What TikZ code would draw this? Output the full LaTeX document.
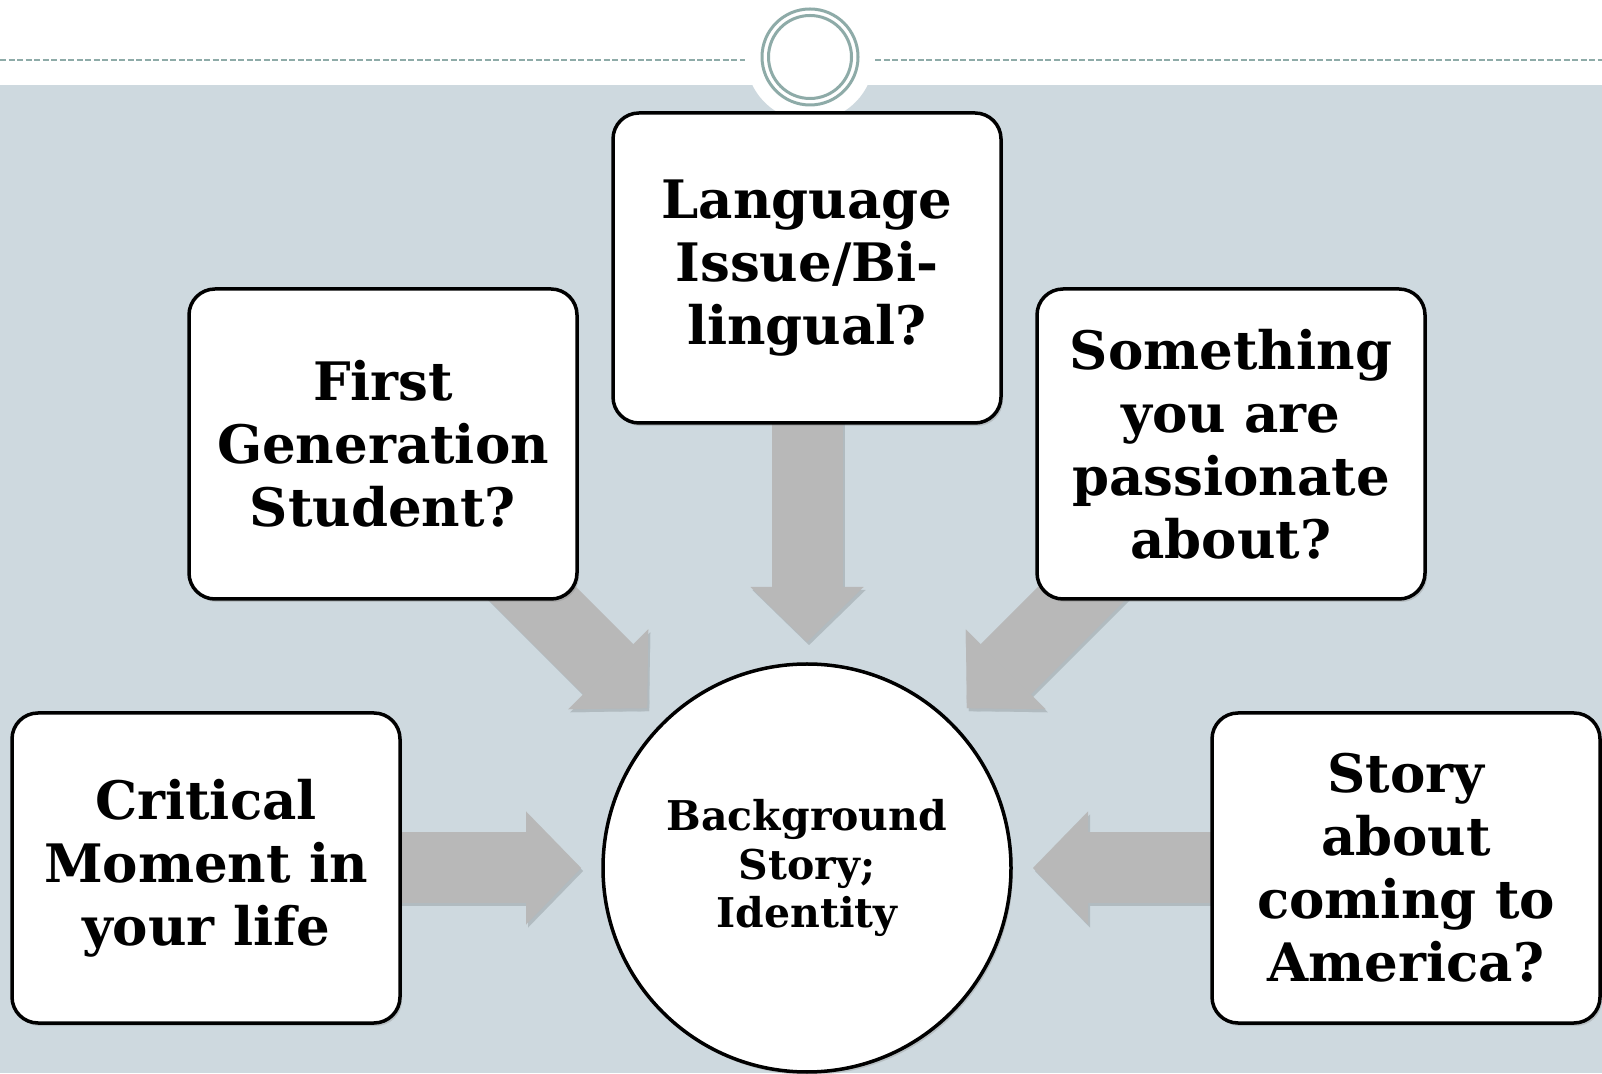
\documentclass[tikz,border=0pt]{standalone}
\usepackage{fontspec}
\setmainfont{DejaVu Serif}
\usepackage{tikz}
\usetikzlibrary{arrows.meta, shadows, backgrounds}
\definecolor{slate}{HTML}{CED9DF}
\definecolor{ringcol}{HTML}{8EABA8}
\definecolor{arrowgray}{HTML}{B8B8B8}

\begin{document}
\begin{tikzpicture}[x=1pt, y=1pt, line join=round,
    idea/.style={draw, line width=3.5pt, fill=white, rounded corners=26pt,
        minimum width=388pt, minimum height=310pt, align=center, inner sep=0pt,
        font=\fontsize{53}{63}\selectfont\bfseries,
        drop shadow={shadow xshift=2pt, shadow yshift=-3pt, opacity=.3}},
    hub/.style={circle, draw, line width=3.5pt, fill=white, minimum size=408pt,
        align=center, inner sep=0pt, font=\fontsize{41}{48.5}\selectfont\bfseries,
        drop shadow={shadow xshift=2pt, shadow yshift=-3pt, opacity=.3}},
    blockarrow/.style={draw=arrowgray, line width=71pt,
        -{Triangle[width=113pt, length=55pt, line width=0.1pt]}},
    blockshadow/.style={blockarrow, draw=slate!86!black,
        transform canvas={shift={(2pt,-3pt)}}}]
    \useasboundingbox (0,0) rectangle (1602,1073);

    \node[hub] (core) at (807,205) {Background\\Story;\\Identity};
    \node[idea] (crit) at (206,205) {Critical\\Moment in\\your life};
    \node[idea] (first) at (383,629) {First\\Generation\\Student?};
    \node[idea] (lang) at (807,805) {Language\\Issue/Bi-\\lingual?};
    \node[idea] (some) at (1231,629) {Something\\you are\\passionate\\about?};
    \node[idea] (story) at (1406,205) {Story\\about\\coming to\\America?};

    \begin{scope}[on background layer]
        % slide header
        \fill[white] (0,0) rectangle (1602,1073);
        \fill[slate] (0,0) rectangle (1602,988);
        \fill[white] (810,1016) circle (64);
        \draw[ringcol, line width=2.5pt, dash pattern=on 6pt off 2.5pt] (0,1013) -- (745,1013);
        \draw[ringcol, line width=2.5pt, dash pattern=on 6pt off 2.5pt] (875,1013) -- (1602,1013);
        \draw[ringcol, line width=3pt] (810,1016) circle (48);
        \draw[ringcol, line width=3pt] (810,1016) circle (41.5);

        % arrows into the hub
        \foreach \src/\ang in {crit/180, first/135, lang/90, some/45, story/0} {
            \draw[blockshadow] (\src.center) -- ([shift={(\ang:226)}]core.center);
            \draw[blockarrow] (\src.center) -- ([shift={(\ang:226)}]core.center);
        }
    \end{scope}
\end{tikzpicture}
\end{document}
